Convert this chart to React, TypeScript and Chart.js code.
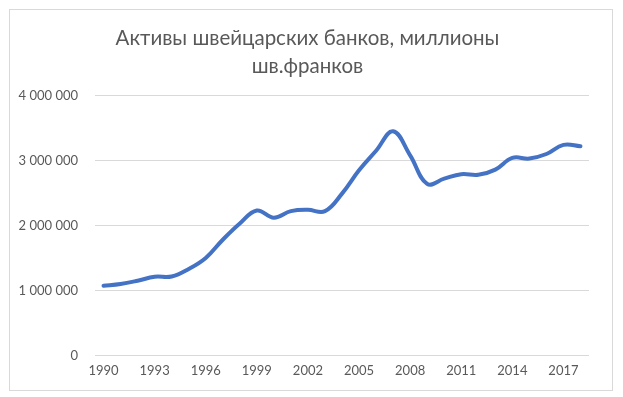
import React, { useEffect, useRef } from 'react';
import { Chart, registerables } from 'chart.js';

Chart.register(...registerables);

const titleLines = ['Активы швейцарских банков, миллионы', 'шв.франков'];

const years = [
  '1990', '1991', '1992', '1993', '1994', '1995', '1996', '1997', '1998', '1999',
  '2000', '2001', '2002', '2003', '2004', '2005', '2006', '2007', '2008', '2009',
  '2010', '2011', '2012', '2013', '2014', '2015', '2016', '2017', '2018',
];

const assets = [
  1072000, 1100000, 1150000, 1210000, 1215000, 1330000, 1500000, 1780000, 2030000, 2230000,
  2120000, 2220000, 2240000, 2220000, 2490000, 2850000, 3150000, 3450000, 3080000, 2640000,
  2720000, 2790000, 2780000, 2860000, 3040000, 3030000, 3100000, 3240000, 3220000,
];

const yMin = 0;
const yMax = 4000000;
const yStep = 1000000;

const FONT = 'Lato, "Open Sans", sans-serif';
const TEXT = '#595959';
const GRID = '#d9d9d9';

function fmt(v: number): string {
  return String(Math.round(v)).replace(/\B(?=(\d{3})+(?!\d))/g, ' ');
}

const titleShift = {
  id: 'titleShift',
  afterLayout(chart: any) {
    const tb = chart.titleBlock;
    if (tb) tb.left += 16;
  },
};

export default function App() {
  const ref = useRef<HTMLCanvasElement | null>(null);

  useEffect(() => {
    if (!ref.current) return;
    const chart = new Chart(ref.current, {
      type: 'line',
      data: {
        labels: years,
        datasets: [
          {
            data: assets,
            borderColor: '#4472C4',
            backgroundColor: '#4472C4',
            borderWidth: 4,
            pointRadius: 0,
            tension: 0.4,
            borderCapStyle: 'round',
            borderJoinStyle: 'round',
            fill: false,
          },
        ],
      },
      plugins: [titleShift],
      options: {
        animation: false,
        responsive: false,
        maintainAspectRatio: false,
        layout: { padding: { left: 0, right: 23, top: 15, bottom: 3 } },
        plugins: {
          legend: { display: false },
          tooltip: { enabled: false },
          title: {
            display: true,
            text: titleLines,
            color: TEXT,
            font: { family: FONT, size: 20.5, weight: 'normal', lineHeight: 1.33 },
            padding: { top: 0, bottom: 16 },
          },
        },
        scales: {
          x: {
            offset: true,
            grid: { display: false, drawTicks: false },
            border: { display: false },
            ticks: {
              color: TEXT,
              font: { family: FONT, size: 13 },
              autoSkip: false,
              maxRotation: 0,
              padding: 8,
              callback: (_v: any, i: number) => (i % 3 === 0 ? years[i] : ''),
            },
          },
          y: {
            min: yMin,
            max: yMax,
            grid: { color: GRID, lineWidth: 1, drawTicks: false },
            border: { display: false },
            ticks: {
              stepSize: yStep,
              color: TEXT,
              font: { family: FONT, size: 13 },
              padding: 17,
              callback: (v: any) => fmt(Number(v)),
            },
            afterFit: (s: any) => {
              s.width = 85;
            },
          },
        },
      },
    });
    return () => chart.destroy();
  }, []);

  return (
    <div style={{ position: 'fixed', left: 0, top: 0, width: 623, height: 397, background: '#fff' }}>
      <div
        style={{
          position: 'absolute',
          left: 9,
          top: 9,
          width: 604,
          height: 382,
          border: '1px solid #d9d9d9',
          boxSizing: 'border-box',
        }}
      >
        <canvas ref={ref} width={602} height={380} style={{ display: 'block' }} />
      </div>
    </div>
  );
}
